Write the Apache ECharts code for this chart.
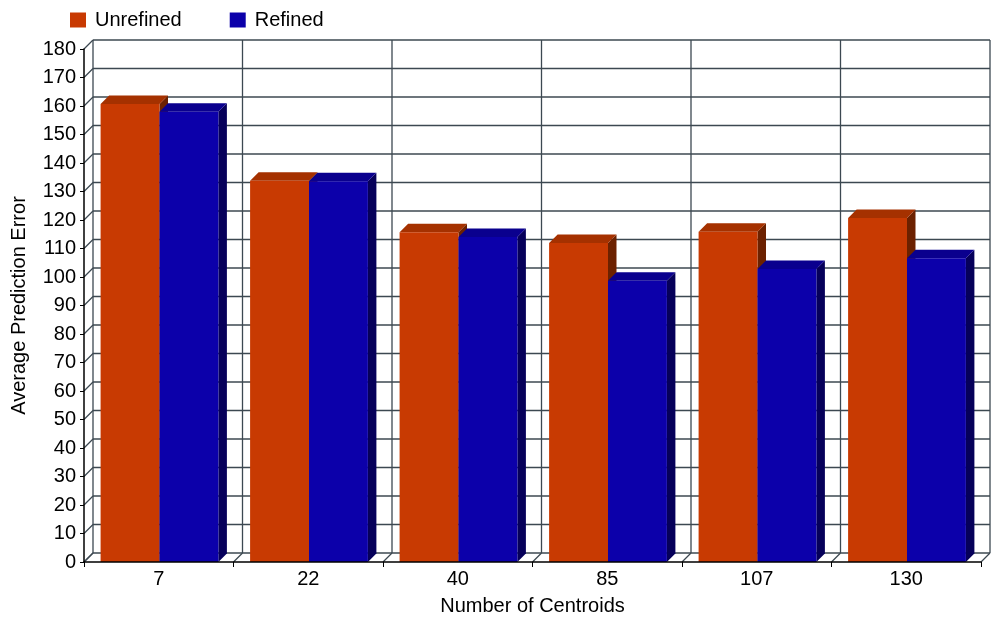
<!DOCTYPE html>
<html>
<head>
<meta charset="utf-8">
<script src="https://cdn.jsdelivr.net/npm/echarts@6/dist/echarts.min.js"></script>
<style>
  html, body { margin: 0; padding: 0; background: #ffffff; }
  #chart { width: 992px; height: 621px; }
</style>
</head>
<body>
<div id="chart"></div>
<script>
// Average prediction error by number of centroids
const centroids = ['7', '22', '40', '85', '107', '130'];
const unrefined = [160.7, 133.8, 115.7, 111.9, 115.9, 120.7];
const refined   = [158.0, 133.6, 114.0, 98.7, 102.8, 106.6];
const yMin = 0, yMax = 180, yStep = 10;

const WALL_DEPTH = 9;   // pseudo-3D offset of the back wall
const BAR_DEPTH = 8.5;  // pseudo-3D offset of each bar
const FONT = '"Liberation Sans", Arial, Helvetica, sans-serif';
const GRID_COLOR = '#3c4851';

const palettes = {
  Unrefined: { front: '#c83a02', top: '#a53100', side: '#6c2100' },
  Refined:   { front: '#0c00aa', top: '#0a008e', side: '#06005a' }
};

// value ticks used for the back-wall grid lines
const wallTicks = [];
for (let v = yMin; v <= yMax; v += yStep) wallTicks.push([0, v]);

// Draws one pseudo-3D bar: side face, top face and front face
function barRenderer(slot, pal) {
  return function (params, api) {
    const idx = api.value(0);
    const val = api.value(1);
    const bw = api.size([1, 0])[0];
    const base = api.coord([idx, 0]);
    const head = api.coord([idx, val]);
    const w = bw * 0.394;
    const x0 = base[0] - bw * 0.389 + slot * w;
    const x1 = x0 + w;
    const yb = base[1], yt = head[1];
    const d = BAR_DEPTH;
    return {
      type: 'group',
      children: [
        { type: 'polygon', shape: { points: [[x1, yb], [x1 + d, yb - d], [x1 + d, yt - d], [x1, yt]] },
          style: { fill: pal.side } },
        { type: 'polygon', shape: { points: [[x0, yt], [x1, yt], [x1 + d, yt - d], [x0 + d, yt - d]] },
          style: { fill: pal.top } },
        { type: 'rect', shape: { x: x0, y: yt, width: w, height: yb - yt },
          style: { fill: pal.front } }
      ]
    };
  };
}

// Back wall, left wall and floor lines of the box
function frameRenderer(params, api) {
  const cs = params.coordSys;
  const d = WALL_DEPTH;
  const v = api.value(1);
  const y = api.coord([0, v])[1];
  const left = cs.x, right = cs.x + cs.width;
  const lineStyle = { stroke: GRID_COLOR, lineWidth: 1.3 };
  const children = [
    { type: 'line', shape: { x1: left + d, y1: y - d, x2: right + d, y2: y - d }, style: lineStyle },
    { type: 'line', shape: { x1: left, y1: y, x2: left + d, y2: y - d }, style: lineStyle }
  ];
  if (params.dataIndex === 0) {
    const n = centroids.length;
    const bw = cs.width / n;
    const top = cs.y, bottom = cs.y + cs.height;
    for (let i = 0; i <= n; i++) {
      const x = left + i * bw;
      children.push({ type: 'line', shape: { x1: x + d, y1: top - d, x2: x + d, y2: bottom - d }, style: lineStyle });
      children.push({ type: 'line', shape: { x1: x, y1: bottom, x2: x + d, y2: bottom - d }, style: lineStyle });
    }
  }
  return { type: 'group', children: children };
}

const chart = echarts.init(document.getElementById('chart'), null, { renderer: 'canvas' });

chart.setOption({
  animation: false,
  backgroundColor: '#ffffff',
  textStyle: { fontFamily: FONT },
  legend: {
    left: 70,
    top: 10,
    padding: 0,
    icon: 'rect',
    itemWidth: 16,
    itemHeight: 15,
    itemGap: 48,
    textStyle: { fontSize: 20, color: '#000', fontFamily: FONT, padding: [0, 0, 0, 4] },
    data: ['Unrefined', 'Refined']
  },
  grid: { left: 84, right: 11, top: 49, bottom: 59, containLabel: false },
  xAxis: {
    type: 'category',
    data: centroids,
    z: 5,
    name: 'Number of Centroids',
    nameLocation: 'middle',
    nameGap: 34,
    nameTextStyle: { fontSize: 20, color: '#000', fontFamily: FONT },
    axisLine: { lineStyle: { color: '#000', width: 1.5 } },
    axisTick: { show: true, alignWithLabel: false, length: 5, lineStyle: { color: '#000' } },
    axisLabel: { fontSize: 20, color: '#000', margin: 7, fontFamily: FONT },
    splitLine: { show: false }
  },
  yAxis: {
    type: 'value',
    min: yMin,
    max: yMax,
    interval: yStep,
    z: 5,
    name: 'Average Prediction Error',
    nameLocation: 'middle',
    nameGap: 55,
    nameTextStyle: { fontSize: 20, color: '#000', fontFamily: FONT },
    axisLine: { show: true, lineStyle: { color: '#000', width: 1.5 } },
    axisTick: { show: true, length: 4, lineStyle: { color: '#000' } },
    axisLabel: { fontSize: 20, color: '#000', margin: 8, fontFamily: FONT },
    splitLine: { show: false }
  },
  series: [
    {
      name: 'frame',
      type: 'custom',
      z: 1,
      silent: true,
      renderItem: frameRenderer,
      data: wallTicks
    },
    {
      name: 'Unrefined',
      type: 'custom',
      z: 2,
      itemStyle: { color: palettes.Unrefined.front },
      renderItem: barRenderer(0, palettes.Unrefined),
      data: unrefined.map((v, i) => [i, v])
    },
    {
      name: 'Refined',
      type: 'custom',
      z: 3,
      itemStyle: { color: palettes.Refined.front },
      renderItem: barRenderer(1, palettes.Refined),
      data: refined.map((v, i) => [i, v])
    }
  ]
});
</script>
</body>
</html>
